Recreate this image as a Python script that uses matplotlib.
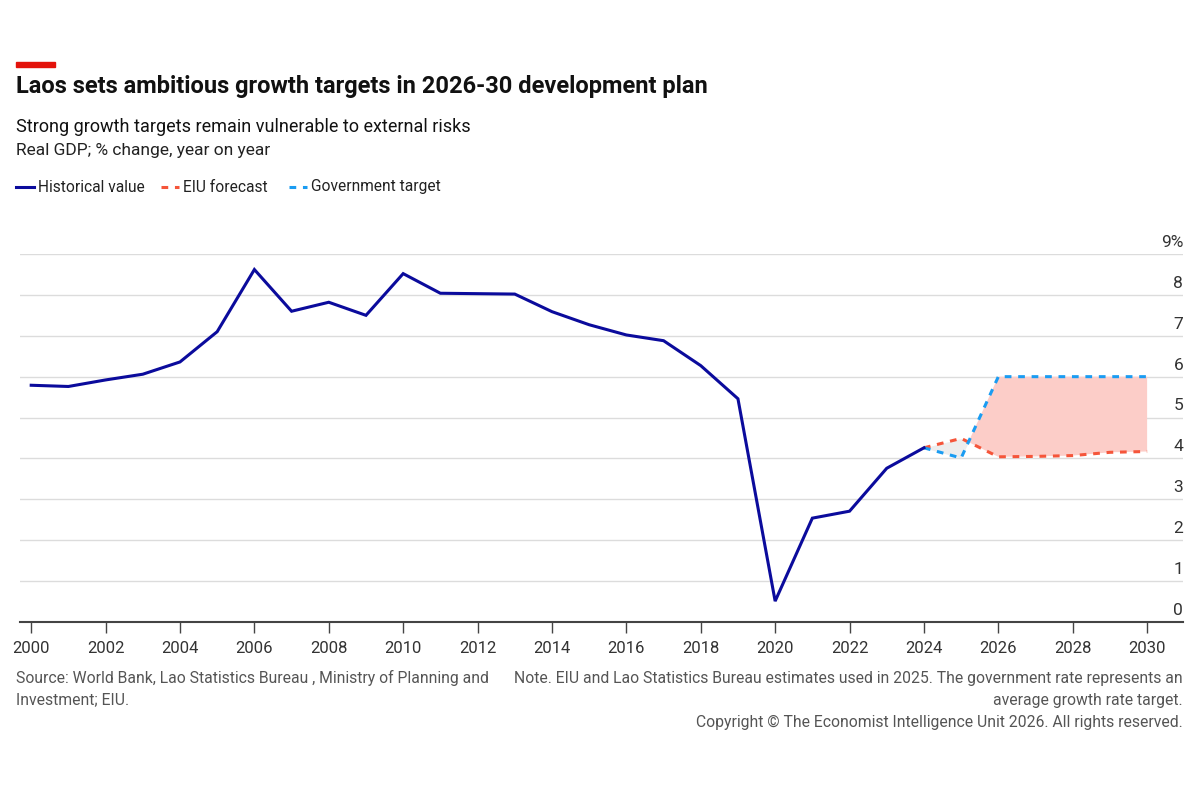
import matplotlib.pyplot as plt
import numpy as np

plt.rcParams['font.family'] = ['Roboto', 'DejaVu Sans']

hist_years = list(range(2000, 2025))
hist_values = [5.79, 5.76, 5.92, 6.06, 6.36, 7.10, 8.62, 7.60, 7.82, 7.50,
               8.52, 8.04, 8.03, 8.02, 7.59, 7.27, 7.02, 6.88, 6.27, 5.46,
               0.51, 2.54, 2.71, 3.76, 4.26]

fc_years = list(range(2024, 2031))
eiu_values = [4.26, 4.49, 4.04, 4.05, 4.07, 4.15, 4.17]
gov_values = [4.26, 4.01, 6.00, 6.00, 6.00, 6.00, 6.00]

yticks = [0, 1, 2, 3, 4, 5, 6, 7, 8, 9]
ytick_labels = ['0', '1', '2', '3', '4', '5', '6', '7', '8', '9%']
xticks = list(range(2000, 2031, 2))

navy = '#0b0b9c'
red = '#f5553a'
blue = '#1a9cf2'

fig = plt.figure(figsize=(12, 8), dpi=100)
ax = fig.add_axes([0.0167, 0.2225, 0.9693, 0.46])

eiu = np.array(eiu_values)
gov = np.array(gov_values)
ax.fill_between(fc_years, eiu, gov, where=gov >= eiu, interpolate=True,
                color='#fccdc8', lw=0, zorder=1)
ax.fill_between(fc_years, eiu, gov, where=gov < eiu, interpolate=True,
                color='#ededed', lw=0, zorder=1)

ax.plot(hist_years, hist_values, color=navy, lw=2.2, zorder=4,
        solid_joinstyle='miter')
ax.plot(fc_years, eiu_values, color=red, lw=2.2, ls=(0, (2.2, 2.2)), zorder=3)
ax.plot(fc_years, gov_values, color=blue, lw=2.2, ls=(0, (2.2, 2.2)), zorder=3)

ax.set_xlim(1999.7, 2030.97)
ax.set_ylim(0, 9)
for y in yticks[1:]:
    ax.axhline(y, color='#dcdcdc', lw=1, zorder=0)
for y, lab in zip(yticks, ytick_labels):
    ax.text(1.0, y + 0.1, lab, transform=ax.get_yaxis_transform(),
            ha='right', va='bottom', fontsize=12.5, color='#333333')
ax.set_yticks([])

ax.set_xticks(xticks)
ax.set_xticklabels([str(x) for x in xticks], fontsize=12, color='#333333')
ax.tick_params(axis='x', length=8, width=1, color='#444444', pad=6)
for s in ['top', 'right', 'left']:
    ax.spines[s].set_visible(False)
ax.spines['bottom'].set_color('#444444')
ax.spines['bottom'].set_linewidth(1.5)

# header
fig.patches.append(plt.Rectangle((16 / 1200, 1 - 67 / 800), 39 / 1200, 5 / 800,
                                 transform=fig.transFigure, color='#e3120b'))
fig.text(16 / 1200, 1 - 87 / 800, 'Laos sets ambitious growth targets in 2026-30 development plan',
         fontsize=17, fontweight='bold', va='center', color='#111111')
fig.text(16 / 1200, 1 - 127 / 800, 'Strong growth targets remain vulnerable to external risks',
         fontsize=13, va='center', color='#111111')
fig.text(16 / 1200, 1 - 151 / 800, 'Real GDP; % change, year on year',
         fontsize=12.5, va='center', color='#222222')

# legend
leg_y = 1 - 187 / 800
items = [('Historical value', navy, '-', 16), ('EIU forecast', red, '--', 161),
         ('Government target', blue, '--', 289)]
for label, col, ls, x0 in items:
    if ls == '-':
        fig.add_artist(plt.Line2D([x0 / 1200, (x0 + 18) / 1200], [leg_y, leg_y],
                                  color=col, lw=2.2, transform=fig.transFigure))
    else:
        fig.add_artist(plt.Line2D([x0 / 1200, (x0 + 18) / 1200], [leg_y, leg_y],
                                  color=col, lw=2.2, ls=(0, (2.2, 2.2)),
                                  transform=fig.transFigure))
    fig.text((x0 + 22) / 1200, leg_y, label, fontsize=11.2, va='center', color='#222222')

# footer
grey = '#555555'
fig.text(16 / 1200, 1 - 678 / 800, 'Source: World Bank, Lao Statistics Bureau , Ministry of Planning and',
         fontsize=11.3, va='center', color=grey)
fig.text(16 / 1200, 1 - 700 / 800, 'Investment; EIU.', fontsize=11.3, va='center', color=grey)
fig.text(1183 / 1200, 1 - 678 / 800,
         'Note. EIU and Lao Statistics Bureau estimates used in 2025. The government rate represents an',
         fontsize=11.3, va='center', ha='right', color=grey)
fig.text(1183 / 1200, 1 - 700 / 800, 'average growth rate target.',
         fontsize=11.3, va='center', ha='right', color=grey)
fig.text(1183 / 1200, 1 - 722 / 800,
         'Copyright © The Economist Intelligence Unit 2026. All rights reserved.',
         fontsize=11.3, va='center', ha='right', color=grey)

fig.savefig('out.png', dpi=100)
